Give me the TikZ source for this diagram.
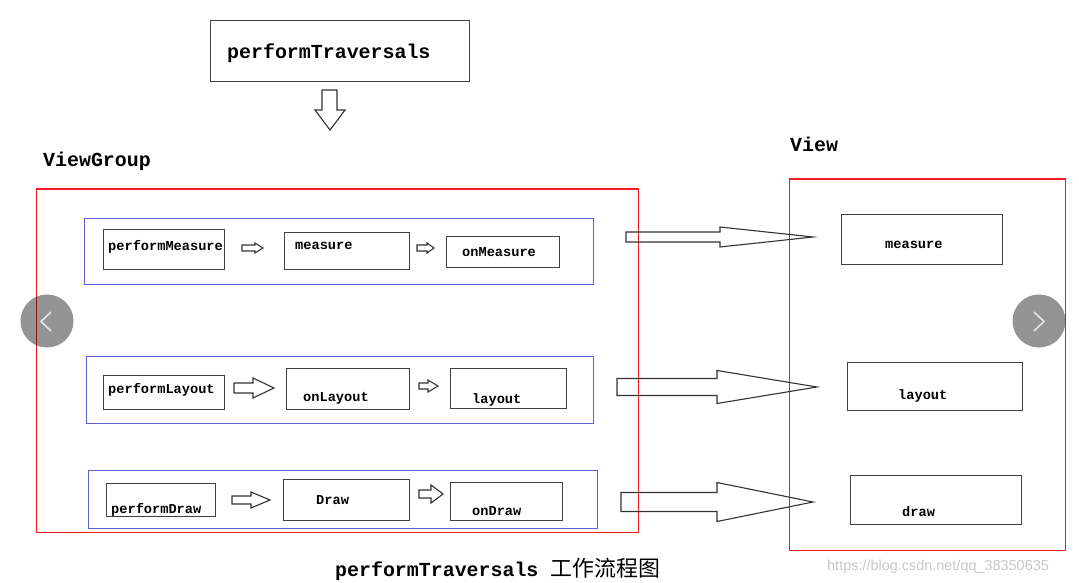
\documentclass[tikz,border=0pt]{standalone}
\usepackage{fontspec}
\setmonofont{Liberation Mono}
\setsansfont{Liberation Sans}
\newfontfamily\cjkfont{Noto Sans CJK SC}
\usetikzlibrary{calc}

% horizontal block arrow: start x, head x, tip x, mid y, shaft half, head half
\newcommand{\harrow}[6]{%
  \draw[blockarrow] (#1,#4-#5) -- (#2,#4-#5) -- (#2,#4-#6) -- (#3,#4)
  -- (#2,#4+#6) -- (#2,#4+#5) -- (#1,#4+#5) -- cycle;}

\begin{document}
\begin{tikzpicture}[x=1bp, y=-1bp,
	% boxes
	callbox/.style={draw=black!75, line width=1.2bp, anchor=north west, inner sep=0pt},
	grpbox/.style={draw=rowblue, line width=1bp, anchor=north west, inner sep=0pt},
	viewbox/.style={draw=framered, line width=1.4bp, anchor=north west, inner sep=0pt},
	% texts
	lbl/.style={anchor=base west, inner sep=0pt, font=\ttfamily\bfseries\fontsize{13.7}{15}\selectfont},
	biglbl/.style={anchor=base west, inner sep=0pt, font=\ttfamily\bfseries\fontsize{20}{22}\selectfont},
	blockarrow/.style={draw=black!80, line width=1.1bp, line join=miter},
	navbtn/.style={circle, fill=black, fill opacity=0.42, minimum size=53bp, inner sep=0pt},
	chevron/.style={draw=white, draw opacity=0.75, line width=1.6bp},
	]
	% Colors
	\definecolor{rowblue}{RGB}{95,95,215}
	\definecolor{framered}{RGB}{250,25,35}
	
	\useasboundingbox (0,0) rectangle (1079,583);
	
	% Frames
	\node[viewbox, minimum width=602bp, minimum height=343bp] (vg) at (35.5,188.5) {};
	\node[viewbox, minimum width=276bp, minimum height=371bp] (vw) at (788.5,178.5) {};
	\node[biglbl] (vgtxt) at (43,167) {ViewGroup};
	\node[biglbl] (vwtxt) at (790,152) {View};
	
	% Top call
	\node[callbox, minimum width=259bp, minimum height=61bp] (tt) at (210,20) {};
	\node[biglbl] (tttxt) at (227,59) {performTraversals};
	\draw[blockarrow] (322,90) -- (337,90) -- (337,110) -- (345,110) -- (330,130)
	-- (315,110) -- (322,110) -- cycle;
	
	% Rows
	\node[grpbox, minimum width=509bp, minimum height=65bp] (r1) at (83.5,218.5) {};
	\node[grpbox, minimum width=507bp, minimum height=67bp] (r2) at (85.5,355.5) {};
	\node[grpbox, minimum width=509bp, minimum height=58bp] (r3) at (87.5,469.5) {};
	
	% measure
	\node[callbox, minimum width=121bp, minimum height=40bp] (pm) at (103,229) {};
	\node[callbox, minimum width=125bp, minimum height=37bp] (ms) at (284,232) {};
	\node[callbox, minimum width=113bp, minimum height=31bp] (om) at (446,236) {};
	\node[lbl] (pmtxt) at (108,251) {performMeasure};
	\node[lbl] (mstxt) at (295,250) {measure};
	\node[lbl] (omtxt) at (462,257) {onMeasure};
	\harrow{242}{255}{263}{248}{3}{5}
	\harrow{417}{427}{434}{248}{3}{5}
	
	% layout
	\node[callbox, minimum width=121bp, minimum height=34bp] (pl) at (103,375) {};
	\node[callbox, minimum width=123bp, minimum height=41bp] (ol) at (286,368) {};
	\node[callbox, minimum width=116bp, minimum height=40bp] (ly) at (450,368) {};
	\node[lbl] (pltxt) at (108,393) {performLayout};
	\node[lbl] (oltxt) at (303,401) {onLayout};
	\node[lbl] (lytxt) at (472,403) {layout};
	\harrow{234}{253}{274}{388}{5}{10}
	\harrow{419}{428}{438}{386}{3}{6}
	
	% draw
	\node[callbox, minimum width=109bp, minimum height=33bp] (pd) at (106,483) {};
	\node[callbox, minimum width=126bp, minimum height=41bp] (dr) at (283,479) {};
	\node[callbox, minimum width=112bp, minimum height=38bp] (od) at (450,482) {};
	\node[lbl] (pdtxt) at (111,513) {performDraw};
	\node[lbl] (drtxt) at (316,504) {Draw};
	\node[lbl] (odtxt) at (472,515) {onDraw};
	\harrow{232}{251}{270}{500}{4}{8}
	\harrow{419}{431}{443}{494}{4}{9}
	
	% View side
	\node[callbox, minimum width=161bp, minimum height=50bp] (vms) at (841,214) {};
	\node[callbox, minimum width=175bp, minimum height=48bp] (vly) at (847,362) {};
	\node[callbox, minimum width=171bp, minimum height=49bp] (vdr) at (850,475) {};
	\node[lbl] (vmstxt) at (885,249) {measure};
	\node[lbl] (vlytxt) at (898,399) {layout};
	\node[lbl] (vdrtxt) at (902,516) {draw};
	
	% big arrows to View
	\harrow{626}{720}{813}{237}{5}{10}
	\harrow{617}{717}{817}{387}{8.5}{16.5}
	\harrow{621}{717}{813}{502}{9.5}{19.5}
	
	% caption
	\node[biglbl] (cap) at (335,576) {performTraversals {\cjkfont\mdseries\fontsize{22}{24}\selectfont 工作流程图}};
	\node[anchor=base west, inner sep=0pt, text=black!22, font=\sffamily\fontsize{14.5}{16}\selectfont] (wm) at (827,570) {https://blog.csdn.net/qq\_38350635};
	
	% slider buttons
	\node[navbtn] (prev) at (47,321) {};
	\node[navbtn] (next) at (1039,321) {};
	\draw[chevron] (51,312) -- (41,321.5) -- (51,331);
	\draw[chevron] (1034,312) -- (1044,321.5) -- (1034,331);
\end{tikzpicture}
\end{document}
